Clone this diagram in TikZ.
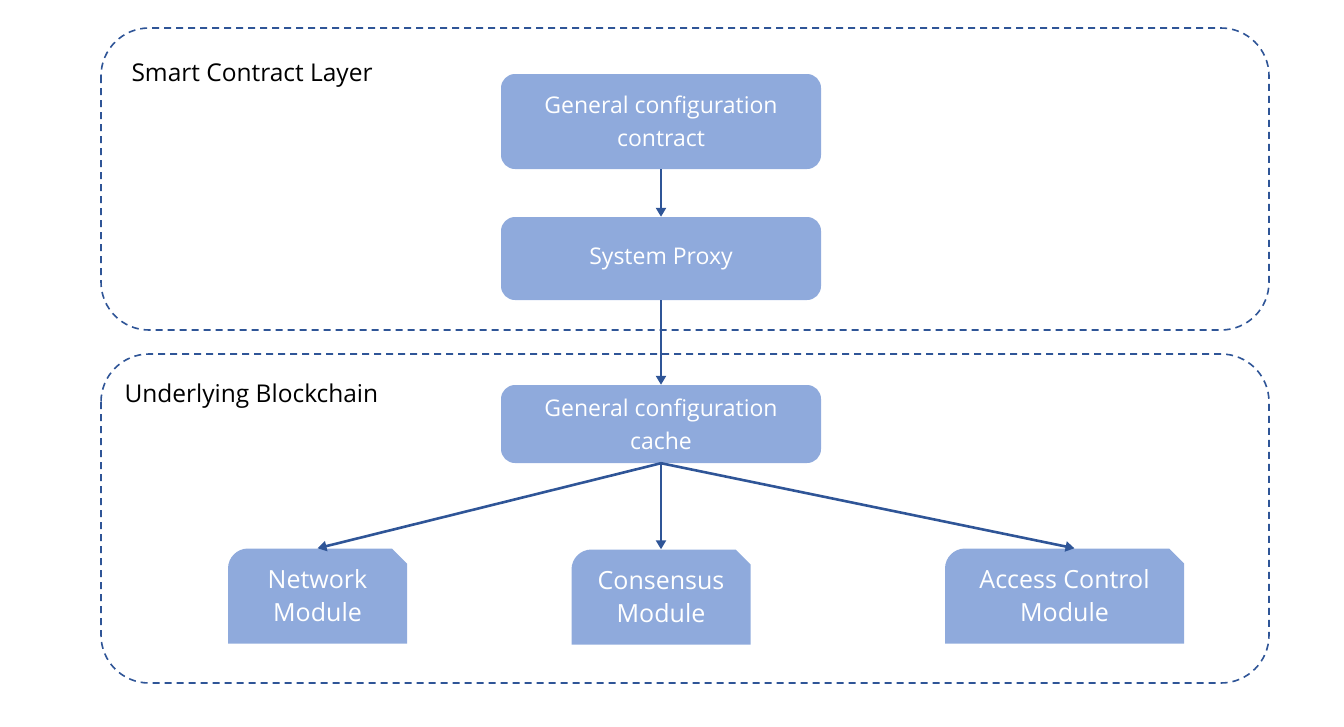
\documentclass[tikz,border=0pt]{standalone}
\usepackage{fontspec}
\setmainfont{Open Sans}
\usepackage{tikz}
\usetikzlibrary{arrows.meta}
\definecolor{boxblue}{HTML}{8FAADC}
\definecolor{lineblue}{HTML}{2F5597}

\begin{document}
\begin{tikzpicture}[x=1pt,y=-1pt,>={Triangle[width=10pt,length=9pt]},
  layer box/.style={draw=lineblue,line width=1.6pt,dash pattern=on 7pt off 5pt,rounded corners=48pt},
  layer label/.style={anchor=west,font=\fontsize{24.5}{28}\selectfont},
  main node/.style={fill=boxblue,rounded corners=14pt,minimum width=320pt,inner sep=0pt,
    text=white,align=center,font=\fontsize{23}{33}\selectfont},
  module node/.style={minimum height=95pt,inner sep=0pt,text=white,align=center,
    font=\fontsize{25}{33}\selectfont,
    path picture={\fill[boxblue] (path picture bounding box.south west)
      -- ([yshift=-20pt]path picture bounding box.north west)
      arc[start angle=180,end angle=90,radius=20pt]
      -- ([xshift=-15pt]path picture bounding box.north east)
      -- ([yshift=-15pt]path picture bounding box.north east)
      -- (path picture bounding box.south east) -- cycle;}},
  link/.style={->,draw=lineblue,line width=2.6pt}]
  \useasboundingbox (0,0) rectangle (1344,726);

  % layers
  \draw[layer box] (101,28) rectangle (1269,330);
  \draw[layer box] (101,354) rectangle (1269,683);
  \node[layer label] (L1) at (128,76) {Smart Contract Layer};
  \node[layer label] (L2) at (121,396) {Underlying Blockchain};

  \node[main node,minimum height=95pt] (1) at (661,121.5) {General configuration\\contract};
  \node[main node,minimum height=83pt] (2) at (661,258.5) {System Proxy};
  \node[main node,minimum height=78pt] (3) at (661,424) {General configuration\\cache};
  \node[module node,minimum width=179pt] (4) at (317.5,596) {Network\\Module};
  \node[module node,minimum width=179pt] (5) at (661,597) {Consensus\\Module};
  \node[module node,minimum width=239pt] (6) at (1064.5,596) {Access Control\\Module};

  \path
    (1) edge[link] (2)
    (2) edge[link] (3)
    (3.south) edge[link] (4.north)
    (3.south) edge[link] (5.north)
    (3.south) edge[link] ([xshift=10pt]6.north);
\end{tikzpicture}
\end{document}
